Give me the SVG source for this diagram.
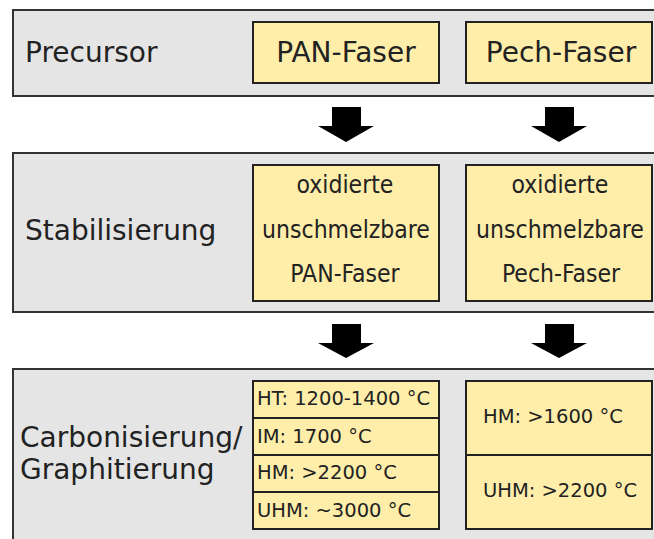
<svg xmlns="http://www.w3.org/2000/svg" width="654" height="539" viewBox="0 0 654 539">
<style>
.stage{fill:#e5e5e5;stroke:#333;stroke-width:2}
.box{fill:#ffeeaa;stroke:#222;stroke-width:2}
.div{stroke:#222;stroke-width:2;fill:none}
text{font-family:"DejaVu Sans","Liberation Sans",sans-serif;fill:#222}
.big{font-size:28px}
.mid{font-family:"DejaVu Sans Condensed","DejaVu Sans",sans-serif;font-size:24.5px;text-anchor:middle}
.small{font-size:19.5px}
.arrow{fill:#000}
</style>
<rect x="0" y="0" width="654" height="539" fill="#fff"/>
<g id="stage-precursor">
<rect class="stage" x="13" y="10" width="660" height="86"/>
<text class="big" x="25" y="62">Precursor</text>
</g>
<g id="pan-faser">
<rect class="box" x="253" y="22" width="186" height="61"/>
<text class="big" x="346" y="62" text-anchor="middle">PAN-Faser</text>
</g>
<g id="pech-faser">
<rect class="box" x="466" y="22" width="186" height="61"/>
<text class="big" x="561" y="62" text-anchor="middle">Pech-Faser</text>
</g>
<g id="stage-stabilisierung">
<rect class="stage" x="13" y="153" width="660" height="159"/>
<text class="big" x="25" y="240">Stabilisierung</text>
</g>
<g id="pan-stabil">
<rect class="box" x="253" y="165" width="186" height="136"/>
<text class="mid" x="345" y="193">oxidierte</text>
<text class="mid" x="346" y="238">unschmelzbare</text>
<text class="mid" x="345" y="282">PAN-Faser</text>
</g>
<g id="pech-stabil">
<rect class="box" x="466" y="165" width="186" height="136"/>
<text class="mid" x="560" y="193">oxidierte</text>
<text class="mid" x="560" y="238">unschmelzbare</text>
<text class="mid" x="561" y="282">Pech-Faser</text>
</g>
<g id="stage-carbonisierung">
<rect class="stage" x="13" y="369" width="660" height="200"/>
<text class="big" x="20" y="447">Carbonisierung/</text>
<text class="big" x="20" y="479">Graphitierung</text>
</g>
<g id="pan-carbon">
<rect class="box" x="253" y="381" width="186" height="148"/>
<line class="div" x1="253" y1="418" x2="439" y2="418"/>
<line class="div" x1="253" y1="455" x2="439" y2="455"/>
<line class="div" x1="253" y1="492" x2="439" y2="492"/>
<text class="small" x="257" y="405">HT: 1200-1400 °C</text>
<text class="small" x="257" y="443">IM: 1700 °C</text>
<text class="small" x="257" y="479">HM: &gt;2200 °C</text>
<text class="small" x="257" y="517">UHM: ~3000 °C</text>
</g>
<g id="pech-carbon">
<rect class="box" x="466" y="381" width="186" height="148"/>
<line class="div" x1="466" y1="455" x2="652" y2="455"/>
<text class="small" x="483" y="423">HM: &gt;1600 °C</text>
<text class="small" x="483" y="497">UHM: &gt;2200 °C</text>
</g>
<g id="connectors">
<polygon class="arrow" points="332,107 361,107 361,126 374,126 346,142 318,126 332,126"/>
<polygon class="arrow" points="545,107 574,107 574,126 587,126 559,142 531,126 545,126"/>
<polygon class="arrow" points="332,324 361,324 361,343 374,343 346,358 318,343 332,343"/>
<polygon class="arrow" points="545,324 574,324 574,343 587,343 559,358 531,343 545,343"/>
</g>
</svg>
